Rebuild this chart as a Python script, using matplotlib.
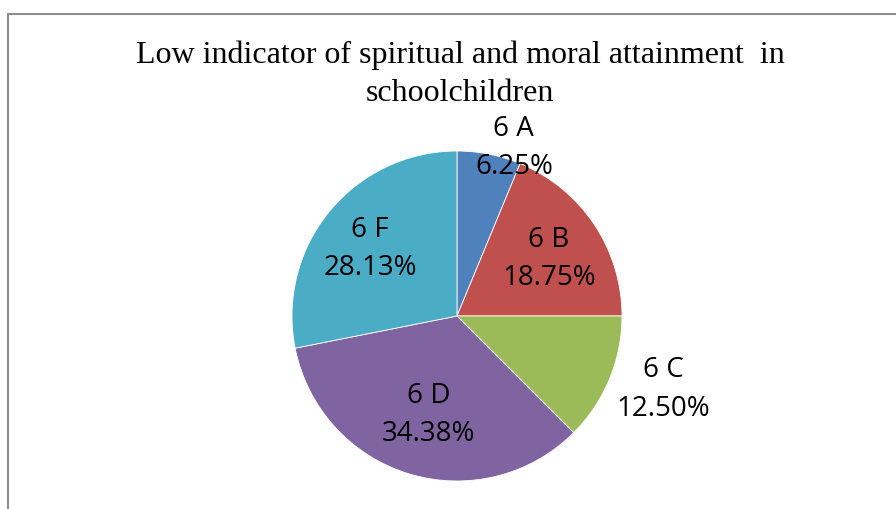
import matplotlib.pyplot as plt
from matplotlib.patches import Rectangle
from decimal import Decimal, ROUND_HALF_UP
import numpy as np

# данные: число учеников с низким показателем по классам
classes = ['6 A', '6 B', '6 C', '6 D', '6 F']
counts = [2, 6, 4, 11, 9]
colors = ['#4F81BD', '#C0504D', '#9BBB59', '#8064A2', '#4BACC6']

# положение подписей (доля радиуса и сдвиг угла)
label_dist = [1.10, 0.67, 1.32, 0.60, 0.68]
label_shift = [-7, 0, 4, 0, 0]

W, H = 896, 510
fig = plt.figure(figsize=(W / 100, H / 100), dpi=100)

# рамка области диаграммы
fig.patches.append(Rectangle((8 / W, -0.1), 1.2, (H - 15) / H + 0.1,
                             transform=fig.transFigure, fill=False,
                             edgecolor='#8c8c8c', linewidth=1.5))

fig.text(460 / W, 1 - 41 / H,
         'Low indicator of spiritual and moral attainment  in\nschoolchildren',
         ha='center', va='top', fontsize=23, family='Liberation Serif',
         linespacing=1.4)

cx, cy, r = 457, 317, 165
ax = fig.add_axes([(cx - r) / W, (H - cy - r) / H, 2 * r / W, 2 * r / H])
wedges, _ = ax.pie(counts, colors=colors, startangle=90, counterclock=False,
                   radius=1, wedgeprops={'edgecolor': 'white', 'linewidth': 0.6})
ax.set_xlim(-1, 1)
ax.set_ylim(-1, 1)
ax.axis('off')

total = sum(counts)
for i, w in enumerate(wedges):
    pct = (Decimal(counts[i]) * 100 / Decimal(total)).quantize(Decimal('0.01'), ROUND_HALF_UP)
    ang = np.deg2rad((w.theta1 + w.theta2) / 2 + label_shift[i])
    d = label_dist[i]
    ax.text(d * np.cos(ang), d * np.sin(ang) - 0.02, f'{classes[i]}\n{pct}%',
            ha='center', va='center', fontsize=20, family='Open Sans',
            linespacing=1.5, clip_on=False)

fig.savefig('out.png', dpi=100)
